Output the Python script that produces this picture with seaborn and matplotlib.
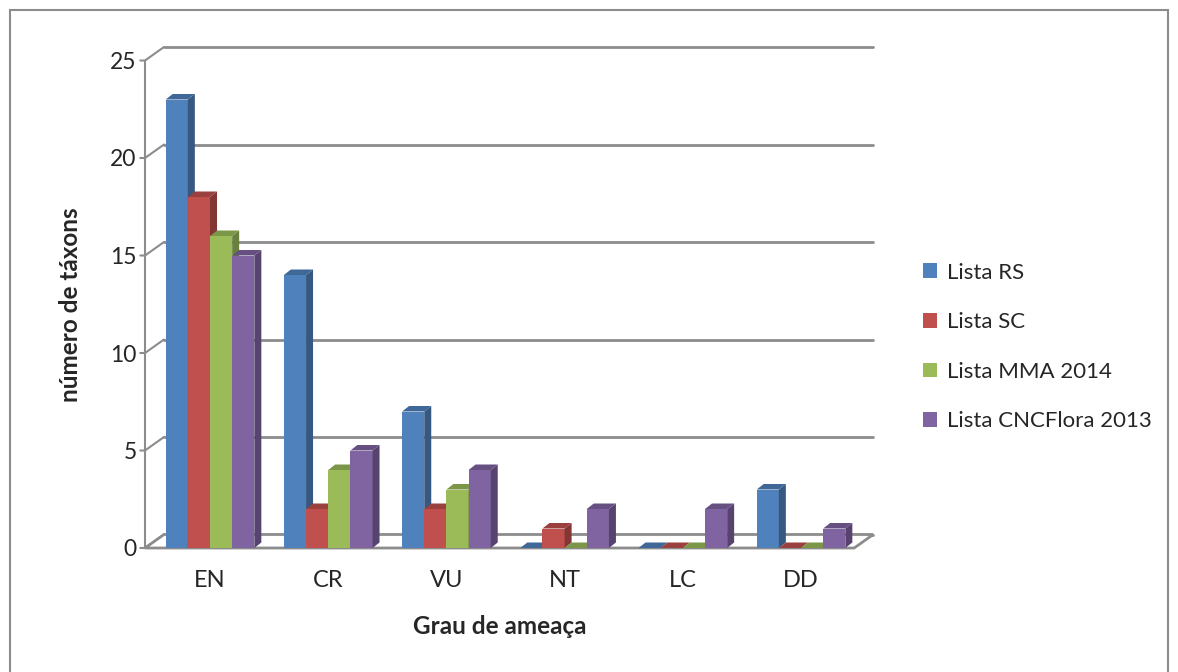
import numpy as np
import pandas as pd
import seaborn as sns
import matplotlib
matplotlib.use("Agg")
import matplotlib.pyplot as plt
from matplotlib.patches import Polygon, Rectangle
from matplotlib.lines import Line2D
import matplotlib.colors as mcolors

categories = ["EN", "CR", "VU", "NT", "LC", "DD"]
series_names = ["Lista RS", "Lista SC", "Lista MMA 2014", "Lista CNCFlora 2013"]
lista_rs = [23, 14, 7, 0, 0, 3]
lista_sc = [18, 2, 2, 1, 0, 0]
lista_mma = [16, 4, 3, 0, 0, 0]
lista_cnc = [15, 5, 4, 2, 2, 1]
y_ticks = [0, 5, 10, 15, 20, 25]
colors = ["#4F81BD", "#C0504D", "#9BBB59", "#8064A2"]

df = pd.DataFrame({
    "cat": categories * 4,
    "serie": sum([[s] * len(categories) for s in series_names], []),
    "val": lista_rs + lista_sc + lista_mma + lista_cnc,
})

sns.set_theme(style="white")
plt.rcParams["font.family"] = ["Lato", "DejaVu Sans"]

W, H = 1178, 672
fig = plt.figure(figsize=(W / 100, H / 100), dpi=100)

# outer border
fig.patches.append(Rectangle((10 / W, -0.05), 1158 / W, (H - 10) / H + 0.05,
                             transform=fig.transFigure, fill=False,
                             edgecolor="#8c8c8c", linewidth=1.5))

ax_left, ax_right, ax_top, ax_bot = 145, 875, 40, 548
ax = fig.add_axes([ax_left / W, (H - ax_bot) / H, (ax_right - ax_left) / W, (ax_bot - ax_top) / H])
px_x = 118.2
px_y = 19.5
xmin = -0.55
xmax_front = 5.45

sns.barplot(data=df, x="cat", y="val", hue="serie", palette=colors,
            width=0.75, ax=ax, legend=False, saturation=1, linewidth=0)
ax.set_xlim(xmin, xmin + (ax_right - ax_left) / px_x)
ax.set_ylim(0, (ax_bot - ax_top) / px_y)

# depth offsets
wdx, wdy = 19 / px_x, 13.5 / px_y     # wall depth
bdx, bdy = 7 / px_x, 5.5 / px_y        # bar depth

grid_c = "#8c8c8c"
for t in y_ticks:
    ax.add_line(Line2D([xmin + wdx, xmax_front + wdx], [t + wdy, t + wdy],
                       color=grid_c, lw=2, zorder=0.5, clip_on=False))
    ax.add_line(Line2D([xmin - 0.04, xmin, xmin + wdx], [t, t, t + wdy],
                       color=grid_c, lw=1.5, zorder=0.5, clip_on=False))
ax.add_line(Line2D([xmin, xmin], [0, y_ticks[-1]], color=grid_c, lw=1.5, zorder=0.5, clip_on=False))
ax.add_patch(Polygon([[xmin, 0], [xmax_front, 0], [xmax_front + wdx, wdy], [xmin + wdx, wdy]],
                     closed=True, facecolor="white", edgecolor=grid_c, lw=2, zorder=0.8, clip_on=False))

patches = [p for p in ax.patches if isinstance(p, Rectangle) and 0 < p.get_width() < 1]
n_cat = len(categories)
for i, p in enumerate(patches):
    h_idx = i // n_cat
    base = 2 + h_idx * 0.1
    p.set_zorder(base)
    x0, w, hgt = p.get_x(), p.get_width(), p.get_height()
    c = np.array(mcolors.to_rgb(colors[h_idx]))
    side_c = c * 0.68
    top_c = c * 0.8
    if hgt > 0:
        ax.add_patch(Polygon([[x0 + w, 0], [x0 + w + bdx, bdy], [x0 + w + bdx, hgt + bdy], [x0 + w, hgt]],
                             closed=True, facecolor=side_c, edgecolor="none", zorder=base + 0.05))
    ax.add_patch(Polygon([[x0, hgt], [x0 + w, hgt], [x0 + w + bdx, hgt + bdy], [x0 + bdx, hgt + bdy]],
                         closed=True, facecolor=top_c, edgecolor="none", zorder=base + 0.06))

for s in ax.spines.values():
    s.set_visible(False)
ax.set_yticks(y_ticks)
ax.set_yticklabels([str(t) for t in y_ticks], fontsize=16.5)
ax.tick_params(axis="y", length=0, pad=6)
ax.tick_params(axis="x", length=0, pad=16, labelsize=17)
ax.set_xlabel("Grau de ameaça", fontsize=17.5, fontweight="bold")
ax.set_ylabel("número de táxons", fontsize=17.5, fontweight="bold")
ax.yaxis.set_label_coords(-(ax_left - 70) / (ax_right - ax_left), (548 - 305) / (ax_bot - ax_top))
ax.xaxis.set_label_coords((500 - ax_left) / (ax_right - ax_left), -(627 - 548) / (ax_bot - ax_top))
ax.xaxis.label.set_va("center")
ax.yaxis.label.set_va("center")
ax.grid(False)
ax.set_facecolor("none")

handles = [Rectangle((0, 0), 1, 1, facecolor=c, edgecolor="none") for c in colors]
fig.legend(handles, series_names, loc="center left", bbox_to_anchor=(903 / W, 1 - 347 / H),
           frameon=False, fontsize=16, handlelength=0.65, handleheight=0.65,
           handletextpad=0.45, labelspacing=1.33)

fig.savefig("out.png", dpi=100)
